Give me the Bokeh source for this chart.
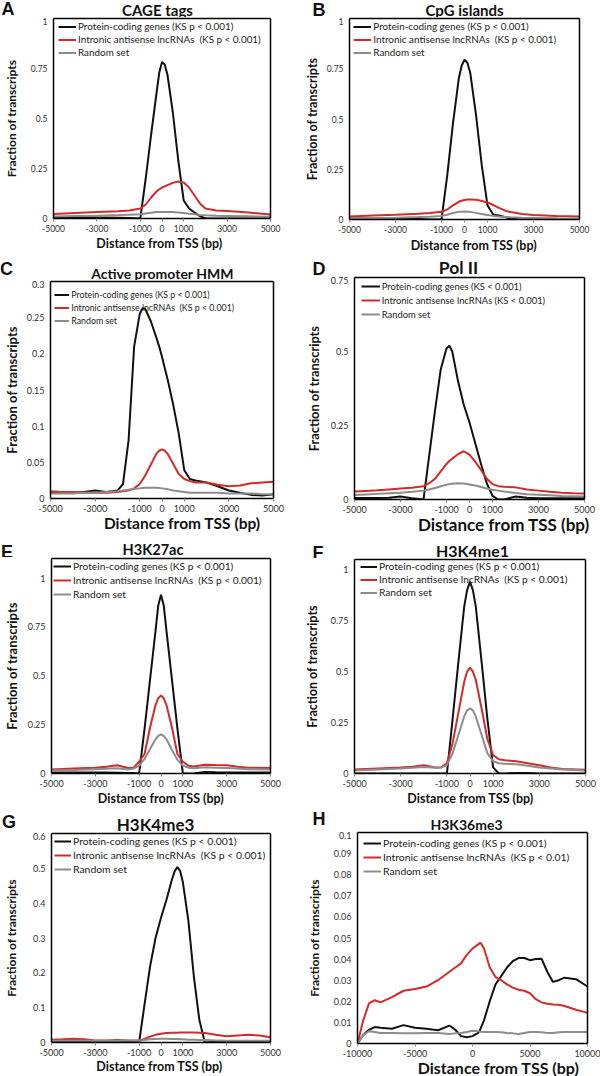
import math
from bokeh.plotting import figure
from bokeh.models import Range1d, FixedTicker, CustomJSTickFormatter, Label, LinearAxis
from bokeh.layouts import column, row
from bokeh.embed import file_html
from bokeh.resources import INLINE

# ---------------- data ----------------
LEG_STD = ["Protein-coding genes (KS p < 0.001)", "Intronic antisense lncRNAs  (KS p < 0.001)", "Random set"]
LEG_D = ["Protein-coding genes (KS < 0.001)", "Intronic antisense lncRNAs (KS < 0.001)", "Random set"]
LEG_H = ["Protein-coding genes (KS p < 0.001)", "Intronic antisense lncRNAs  (KS p < 0.01)", "Random set"]

XTICKS_5K = [-5000, -3000, -1000, 0, 1000, 3000, 5000]
XTICKS_10K = [-10000, -5000, 0, 5000, 10000]

# Panel A: CAGE tags
a_x = [-5000, -4000, -3000, -2000, -1500, -1000, -750, -500, -250, -125, 0, 125, 250, 500, 750, 1000, 1250, 1500, 1750, 2000, 2500, 3000, 4000, 5000]
a_coding = [0.006, 0.006, 0.005, 0.004, 0.003, 0.0, 0.2, 0.42, 0.63, 0.73, 0.782, 0.77, 0.72, 0.53, 0.29, 0.09, 0.05, 0.03, 0.012, 0.0, 0.0, 0.0, 0.0, 0.0]
a_lnc = [0.022, 0.027, 0.032, 0.036, 0.04, 0.05, 0.07, 0.105, 0.135, 0.146, 0.155, 0.161, 0.167, 0.178, 0.185, 0.18, 0.155, 0.115, 0.075, 0.05, 0.04, 0.037, 0.03, 0.02]
a_rand = [0.01, 0.012, 0.014, 0.017, 0.019, 0.021, 0.025, 0.029, 0.032, 0.0325, 0.033, 0.033, 0.033, 0.032, 0.03, 0.027, 0.024, 0.021, 0.018, 0.016, 0.014, 0.013, 0.011, 0.009]

# Panel B: CpG islands
b_x = [-5000, -4000, -3000, -2000, -1500, -1000, -750, -500, -250, -125, 0, 125, 250, 500, 750, 1000, 1250, 1500, 1750, 2000, 2500, 3000, 4000, 5000]
b_coding = [0.005, 0.005, 0.004, 0.003, 0.0, 0.0, 0.22, 0.48, 0.7, 0.765, 0.795, 0.78, 0.73, 0.52, 0.27, 0.07, 0.025, 0.02, 0.012, 0.005, 0.0, 0.0, 0.0, 0.0]
b_lnc = [0.015, 0.02, 0.024, 0.029, 0.032, 0.038, 0.05, 0.07, 0.088, 0.093, 0.097, 0.099, 0.1, 0.098, 0.092, 0.085, 0.072, 0.058, 0.045, 0.037, 0.027, 0.022, 0.017, 0.015]
b_rand = [0.005, 0.007, 0.009, 0.012, 0.014, 0.017, 0.024, 0.032, 0.038, 0.039, 0.04, 0.039, 0.038, 0.033, 0.027, 0.022, 0.018, 0.015, 0.013, 0.011, 0.009, 0.008, 0.006, 0.005]

# Panel C: Active promoter HMM
c_x = [-5000, -4500, -4000, -3500, -3000, -2500, -2000, -1750, -1500, -1250, -1000, -875, -750, -500, -250, -125, 0, 125, 250, 500, 750, 1000, 1250, 1500, 2000, 2500, 3000, 3500, 4000, 4500, 5000]
c_coding = [0.009, 0.008, 0.008, 0.009, 0.011, 0.009, 0.011, 0.02, 0.08, 0.21, 0.255, 0.263, 0.262, 0.245, 0.222, 0.21, 0.196, 0.18, 0.165, 0.13, 0.09, 0.039, 0.027, 0.025, 0.022, 0.017, 0.011, 0.008, 0.005, 0.004, 0.006]
c_lnc = [0.01, 0.009, 0.009, 0.008, 0.008, 0.008, 0.009, 0.01, 0.011, 0.014, 0.02, 0.026, 0.032, 0.047, 0.062, 0.066, 0.068, 0.066, 0.062, 0.048, 0.034, 0.027, 0.024, 0.022, 0.022, 0.019, 0.017, 0.018, 0.021, 0.022, 0.023]
c_rand = [0.007, 0.007, 0.007, 0.008, 0.008, 0.009, 0.01, 0.011, 0.012, 0.013, 0.014, 0.0145, 0.015, 0.015, 0.015, 0.0145, 0.014, 0.0135, 0.013, 0.011, 0.01, 0.009, 0.008, 0.008, 0.008, 0.008, 0.007, 0.007, 0.007, 0.006, 0.006]

# Panel D: Pol II
d_x = [-5000, -4500, -4000, -3500, -3000, -2500, -2000, -1750, -1500, -1250, -1000, -875, -750, -500, -250, 0, 250, 500, 750, 1000, 1250, 1500, 2000, 2500, 3000, 3500, 4000, 4500, 5000]
d_coding = [0.005, 0.005, 0.005, 0.006, 0.01, 0.004, 0.0, 0.15, 0.3, 0.44, 0.51, 0.52, 0.5, 0.4, 0.32, 0.26, 0.19, 0.12, 0.055, 0.012, 0.0, 0.0, 0.01, 0.006, 0.004, 0.004, 0.004, 0.004, 0.004]
d_lnc = [0.027, 0.029, 0.031, 0.034, 0.037, 0.04, 0.045, 0.055, 0.07, 0.095, 0.12, 0.13, 0.138, 0.153, 0.163, 0.152, 0.128, 0.1, 0.07, 0.052, 0.045, 0.043, 0.041, 0.034, 0.03, 0.026, 0.023, 0.021, 0.02]
d_rand = [0.015, 0.017, 0.019, 0.021, 0.023, 0.026, 0.03, 0.034, 0.039, 0.045, 0.05, 0.052, 0.053, 0.055, 0.054, 0.051, 0.047, 0.042, 0.037, 0.033, 0.03, 0.027, 0.022, 0.018, 0.016, 0.014, 0.012, 0.011, 0.01]

# Panel E: H3K27ac
e_x = [-5000, -4000, -3000, -2500, -2000, -1500, -1250, -1000, -750, -500, -250, -125, 0, 125, 250, 500, 750, 1000, 1250, 1500, 2000, 2500, 3000, 3500, 4000, 5000]
e_coding = [0.005, 0.005, 0.005, 0.005, 0.004, 0.003, 0.002, 0.0, 0.23, 0.48, 0.73, 0.86, 0.915, 0.86, 0.73, 0.48, 0.23, 0.0, 0.0, 0.0, 0.008, 0.006, 0.005, 0.005, 0.005, 0.005]
e_lnc = [0.02, 0.025, 0.03, 0.035, 0.042, 0.028, 0.03, 0.06, 0.1, 0.235, 0.35, 0.385, 0.4, 0.385, 0.35, 0.235, 0.1, 0.06, 0.04, 0.036, 0.045, 0.043, 0.042, 0.035, 0.03, 0.028]
e_rand = [0.015, 0.018, 0.022, 0.024, 0.027, 0.02, 0.025, 0.04, 0.075, 0.125, 0.175, 0.193, 0.2, 0.193, 0.175, 0.12, 0.07, 0.04, 0.03, 0.027, 0.032, 0.03, 0.028, 0.025, 0.022, 0.02]

# Panel F: H3K4me1
f_x = [-5000, -4000, -3000, -2500, -2000, -1500, -1250, -1000, -750, -500, -250, -125, 0, 125, 250, 500, 750, 1000, 1250, 1500, 2000, 2500, 3000, 3500, 4000, 5000]
f_coding = [0.0, 0.0, 0.0, 0.0, 0.0, 0.0, 0.0, 0.0, 0.27, 0.55, 0.82, 0.9, 0.94, 0.9, 0.82, 0.55, 0.27, 0.03, 0.0, 0.0, 0.003, 0.002, 0.0, 0.0, 0.0, 0.0]
f_lnc = [0.02, 0.025, 0.03, 0.033, 0.04, 0.03, 0.03, 0.05, 0.15, 0.3, 0.45, 0.5, 0.52, 0.5, 0.46, 0.32, 0.17, 0.09, 0.07, 0.065, 0.06, 0.05, 0.04, 0.03, 0.022, 0.018]
f_rand = [0.015, 0.02, 0.025, 0.028, 0.032, 0.028, 0.03, 0.04, 0.1, 0.19, 0.28, 0.31, 0.32, 0.31, 0.28, 0.19, 0.1, 0.06, 0.05, 0.048, 0.045, 0.038, 0.03, 0.025, 0.02, 0.015]

# Panel G: H3K4me3
g_x = [-5000, -4500, -4000, -3500, -3000, -2500, -2000, -1500, -1000, -750, -500, -250, 0, 250, 500, 625, 750, 875, 1000, 1250, 1500, 1750, 2000, 2500, 3000, 3500, 4000, 4500, 5000]
g_coding = [0.003, 0.003, 0.003, 0.003, 0.003, 0.003, 0.003, 0.002, 0.0, 0.11, 0.218, 0.3, 0.358, 0.41, 0.468, 0.492, 0.504, 0.492, 0.46, 0.35, 0.19, 0.065, 0.0, 0.002, 0.002, 0.002, 0.002, 0.002, 0.002]
g_lnc = [0.008, 0.009, 0.011, 0.009, 0.006, 0.006, 0.007, 0.006, 0.005, 0.01, 0.017, 0.022, 0.025, 0.027, 0.028, 0.028, 0.028, 0.0285, 0.029, 0.029, 0.029, 0.028, 0.027, 0.022, 0.018, 0.02, 0.022, 0.02, 0.015]
g_rand = [0.005, 0.005, 0.005, 0.005, 0.005, 0.005, 0.005, 0.006, 0.006, 0.007, 0.009, 0.01, 0.011, 0.011, 0.01, 0.01, 0.01, 0.0095, 0.009, 0.008, 0.008, 0.007, 0.007, 0.006, 0.005, 0.005, 0.005, 0.005, 0.005]

# Panel H: H3K36me3
h_x = [-10000, -9500, -9000, -8500, -8000, -7000, -6000, -5000, -4000, -3000, -2000, -1500, -1000, -500, 0, 500, 700, 1000, 1500, 2000, 2500, 3000, 3500, 4000, 4500, 5000, 5500, 6000, 6500, 7000, 7500, 8000, 9000, 10000]
h_coding = [0.0, 0.004, 0.0065, 0.0078, 0.0075, 0.007, 0.0087, 0.0075, 0.007, 0.0063, 0.0085, 0.0065, 0.0035, 0.003, 0.0035, 0.005, 0.007, 0.011, 0.02, 0.028, 0.032, 0.036, 0.039, 0.0405, 0.0405, 0.0395, 0.04, 0.0402, 0.034, 0.0292, 0.03, 0.0312, 0.0305, 0.027]
h_lnc = [0.0, 0.011, 0.019, 0.0205, 0.0195, 0.022, 0.025, 0.0258, 0.027, 0.03, 0.034, 0.036, 0.038, 0.042, 0.045, 0.047, 0.0478, 0.045, 0.036, 0.0315, 0.03, 0.028, 0.0265, 0.0255, 0.025, 0.0238, 0.021, 0.0195, 0.0188, 0.0185, 0.0184, 0.0178, 0.016, 0.0145]
h_rand = [0.0, 0.004, 0.0058, 0.0055, 0.005, 0.005, 0.0048, 0.0048, 0.005, 0.005, 0.0045, 0.0048, 0.005, 0.0055, 0.006, 0.0058, 0.0056, 0.0055, 0.0055, 0.0055, 0.0053, 0.005, 0.0048, 0.0045, 0.005, 0.0055, 0.0055, 0.0053, 0.005, 0.005, 0.0053, 0.0055, 0.0055, 0.0055]

# ---------------- styling / layout ----------------
FONT = "Lato"
BLACK = "#111111"
RED = "#d42a2a"
GRAY = "#8c8c8c"
TEXT = "#222222"

# geometry in page pixels (frame = left, right, top, bottom; texts = centre x, baseline y)
PANELS = [
    dict(letter="A", title="CAGE tags", x=a_x, ys=(a_coding, a_lnc, a_rand), leg=LEG_STD,
         xr=(-5000, 5000), yr=(0, 1), xt=XTICKS_5K, yt=[0, 0.25, 0.5, 0.75, 1],
         row=0, col=0, frame=(47, 270, 18, 218), title_at=(157, 13.3), letter_at=(7.5, 13.3),
         xlab_at=(159, 246.7), ylab_cx=6.7, title_fs=15, ylab_fs=12, xlab_fs=12.5, tick_fs=8.5,
         leg_fs=9.9, leg_pitch=13, leg_first=7, leg_x=5, leg_gw=18),
    dict(letter="B", title="CpG islands", x=b_x, ys=(b_coding, b_lnc, b_rand), leg=LEG_STD,
         xr=(-5000, 5000), yr=(0, 1), xt=XTICKS_5K, yt=[0, 0.25, 0.5, 0.75, 1],
         row=0, col=1, frame=(349, 579, 18, 219), title_at=(464, 14), letter_at=(318.5, 15),
         xlab_at=(473.3, 248.3), ylab_cx=315, title_fs=15, ylab_fs=12.5, xlab_fs=12.5, tick_fs=8.5,
         leg_fs=9.9, leg_pitch=13, leg_first=7, leg_x=4.3, leg_gw=18),
    dict(letter="C", title="Active promoter HMM", x=c_x, ys=(c_coding, c_lnc, c_rand), leg=LEG_STD,
         xr=(-5000, 5000), yr=(0, 0.3), xt=XTICKS_5K, yt=[0, 0.05, 0.1, 0.15, 0.2, 0.25, 0.3],
         row=1, col=0, frame=(44, 273, 281, 498), title_at=(162, 277.3), letter_at=(6, 273.3),
         xlab_at=(181.7, 521), ylab_cx=6.7, title_fs=14, ylab_fs=13, xlab_fs=15.5, tick_fs=9,
         leg_fs=8.8, leg_pitch=13, leg_first=12, leg_x=4.3, leg_gw=15),
    dict(letter="D", title="Pol II", x=d_x, ys=(d_coding, d_lnc, d_rand), leg=LEG_D,
         xr=(-5000, 5000), yr=(0, 0.75), xt=XTICKS_5K, yt=[0, 0.25, 0.5, 0.75],
         row=1, col=1, frame=(354, 584, 277, 499), title_at=(458, 273.3), letter_at=(318.5, 273.3),
         xlab_at=(503.3, 526), ylab_cx=316, title_fs=17.5, ylab_fs=12.8, xlab_fs=17, tick_fs=9,
         leg_fs=9.4, leg_pitch=14, leg_first=8, leg_x=6.7, leg_gw=19),
    dict(letter="E", title="H3K27ac", x=e_x, ys=(e_coding, e_lnc, e_rand), leg=LEG_STD,
         xr=(-5000, 5000), yr=(0, 1.1), xt=XTICKS_5K, yt=[0, 0.25, 0.5, 0.75, 1],
         row=2, col=0, frame=(45, 270, 558, 773), title_at=(152.5, 553.3), letter_at=(6.5, 559.3),
         xlab_at=(160.5, 801), ylab_cx=6, title_fs=14.6, ylab_fs=13, xlab_fs=12.5, tick_fs=9,
         leg_fs=10.2, leg_pitch=14, leg_first=7, leg_x=2, leg_gw=18),
    dict(letter="F", title="H3K4me1", x=f_x, ys=(f_coding, f_lnc, f_rand), leg=LEG_STD,
         xr=(-5000, 5000), yr=(0, 1.05), xt=XTICKS_5K, yt=[0, 0.25, 0.5, 0.75, 1],
         row=2, col=1, frame=(354, 585, 559, 773), title_at=(472, 556.7), letter_at=(317.5, 558.3),
         xlab_at=(470, 801), ylab_cx=315, title_fs=16, ylab_fs=12.5, xlab_fs=12.5, tick_fs=9,
         leg_fs=10.2, leg_pitch=13, leg_first=6, leg_x=6, leg_gw=17),
    dict(letter="G", title="H3K4me3", x=g_x, ys=(g_coding, g_lnc, g_rand), leg=LEG_STD,
         xr=(-5000, 5000), yr=(0, 0.6), xt=XTICKS_5K, yt=[0, 0.1, 0.2, 0.3, 0.4, 0.5, 0.6],
         row=3, col=0, frame=(45, 270, 833, 1042), title_at=(155, 832), letter_at=(8.5, 826.7),
         xlab_at=(159, 1069), ylab_cx=6, title_fs=17, ylab_fs=12, xlab_fs=12.5, tick_fs=9,
         leg_fs=10.4, leg_pitch=14, leg_first=7, leg_x=3, leg_gw=17),
    dict(letter="H", title="H3K36me3", x=h_x, ys=(h_coding, h_lnc, h_rand), leg=LEG_H,
         xr=(-10000, 10000), yr=(0, 0.1), xt=XTICKS_10K,
         yt=[0, 0.01, 0.02, 0.03, 0.04, 0.05, 0.06, 0.07, 0.08, 0.09, 0.1],
         row=3, col=1, frame=(357, 587, 832, 1043), title_at=(466, 831.7), letter_at=(318.5, 823.3),
         xlab_at=(498, 1070), ylab_cx=316.7, title_fs=14, ylab_fs=12, xlab_fs=16, tick_fs=9,
         leg_fs=10.4, leg_pitch=14, leg_first=10, leg_x=6, leg_gw=18),
]

ROW_TOPS = [0, 255, 535, 808, 1076]
COL_LEFT = [0, 300]
COL_W = 300
AXIS_B = 17          # room for x tick labels below each frame
LETTER_FS = 18
BASELINE_FIX = 0.28  # Bokeh draws "alphabetic" text a little low; lift it by this many ems
FMT = "var v = parseFloat(tick.toFixed(6)); return (v < 0 ? '-' : '') + String(Math.abs(v));"


def label_w(t, fs):
    # rough Lato width of a tick label
    return sum(0.26 if ch == "." else 0.58 for ch in str(t)) * fs


def tick_text(v):
    return ("%.6f" % v).rstrip("0").rstrip(".")


def text_box(width, height, items):
    """A frame-only figure that carries free texts (letters, titles, x labels)."""
    p = figure(width=width, height=height, output_backend="svg", toolbar_location=None,
               x_range=Range1d(0, width), y_range=Range1d(0, height),
               x_axis_location=None, y_axis_location=None, frame_align=False,
               min_border_left=0, min_border_right=0, min_border_top=0, min_border_bottom=0)
    p.title.visible = False
    p.outline_line_color = None
    p.xgrid.visible = False
    p.ygrid.visible = False
    p.background_fill_color = "white"
    p.border_fill_color = "white"
    for (txt, x, y, fs, font) in items:
        p.add_layout(Label(x=x, y=y + BASELINE_FIX * fs, x_units="screen", y_units="screen", text=txt,
                           text_font=font, text_font_style="bold", text_font_size=f"{fs}px",
                           text_align="center", text_baseline="alphabetic", text_color="#111111"))
    return p


def border_axis():
    return LinearAxis(ticker=FixedTicker(ticks=[], minor_ticks=[]),
                      major_tick_out=0, major_tick_in=0, major_label_standoff=0,
                      axis_line_color="black", axis_line_width=1.5,
                      major_label_text_alpha=0, minor_tick_line_color=None,
                      major_tick_line_color=None)


def make_panel(c):
    x0 = COL_LEFT[c["col"]]
    row_top = ROW_TOPS[c["row"]]
    row_bot = ROW_TOPS[c["row"] + 1]
    fl, fr, top, bot = c["frame"]
    L = fl - x0
    R = COL_W - (fr - x0)
    fh = bot - top
    head_h = top - 1 - row_top
    main_h = 1 + fh + AXIS_B
    foot_h = row_bot - (bot + AXIS_B)

    # ---- main plot ----
    p = figure(width=COL_W, height=main_h, output_backend="svg", toolbar_location=None,
               x_range=Range1d(*c["xr"]), y_range=Range1d(*c["yr"]), frame_align=False,
               min_border_left=L, min_border_right=R, min_border_top=1, min_border_bottom=AXIS_B)
    p.title.visible = False
    p.background_fill_color = "white"
    p.border_fill_color = "white"
    p.outline_line_color = None
    p.xgrid.visible = False
    p.ygrid.visible = False

    for ax, ticks in ((p.xaxis[0], c["xt"]), (p.yaxis[0], c["yt"])):
        ax.ticker = FixedTicker(ticks=ticks, minor_ticks=[])
        ax.formatter = CustomJSTickFormatter(code=FMT)
        ax.axis_line_color = "black"
        ax.axis_line_width = 1.5
        ax.minor_tick_line_color = None
        ax.major_label_text_font = FONT
        ax.major_label_text_font_size = f"{c['tick_fs']}px"
        ax.major_label_text_color = "#333333"
    p.xaxis.major_tick_out = 3
    p.xaxis.major_tick_in = 0
    p.xaxis.major_tick_line_color = "#888888"
    p.xaxis.major_label_standoff = 3
    p.yaxis.major_tick_out = 0
    p.yaxis.major_tick_in = 0
    p.yaxis.major_tick_line_color = None
    p.yaxis.major_label_standoff = 6

    # y axis title as a real axis label, placed where the reference has it
    tw = max(label_w(tick_text(v), c["tick_fs"]) for v in c["yt"])
    dist = fl - c["ylab_cx"]
    lab_h = 1.2 * c["ylab_fs"]
    stand = int(max(0, round(dist - 6 - tw - lab_h / 2)))
    stand = min(stand, max(0, int(L - 6 - tw - lab_h)))
    p.yaxis.axis_label = "Fraction of transcripts"
    p.yaxis.axis_label_standoff = stand
    p.yaxis.axis_label_text_font = FONT
    p.yaxis.axis_label_text_font_style = "bold"
    p.yaxis.axis_label_text_font_size = f"{c['ylab_fs']}px"
    p.yaxis.axis_label_text_color = "#111111"

    colors = (BLACK, RED, GRAY)
    for ys, col, lab in zip(c["ys"], colors, c["leg"]):
        p.line(c["x"], ys, line_color=col, line_width=2, legend_label=lab)

    leg = p.legend[0]
    pitch = int(c["leg_pitch"])
    leg.padding = 0
    leg.spacing = 0
    leg.margin = 0
    leg.glyph_width = int(c["leg_gw"])
    leg.glyph_height = pitch
    leg.label_height = pitch
    leg.label_standoff = 2
    leg.label_text_font = FONT
    leg.label_text_font_size = f"{c['leg_fs']}px"
    leg.label_text_color = TEXT
    leg.border_line_alpha = 0
    leg.background_fill_alpha = 0
    top_off = c["leg_first"] - pitch / 2
    leg.location = (c["leg_x"], fh - top_off - 3 * pitch - 1)

    p.add_layout(border_axis(), "above")
    p.add_layout(border_axis(), "right")

    # ---- header: panel letter + title ----
    head_bottom = top - 1
    items = []
    lx, ly = c["letter_at"]
    base = max(ly, row_top + 0.74 * LETTER_FS)
    base = min(base, head_bottom - 0.5)
    items.append((c["letter"], lx - x0, head_bottom - base, LETTER_FS, "Liberation Sans"))
    tx, ty = c["title_at"]
    fs = c["title_fs"]
    base = max(ty, row_top + 0.74 * fs)
    base = min(base, head_bottom - 0.22 * fs)
    items.append((c["title"], tx - x0, head_bottom - base, fs, FONT))
    header = text_box(COL_W, head_h, items)

    # ---- footer: x axis title ----
    foot_top = bot + AXIS_B
    xx, xy = c["xlab_at"]
    fs = c["xlab_fs"]
    base = max(xy, foot_top + 0.74 * fs)
    base = min(base, row_bot - 0.24 * fs)
    footer = text_box(COL_W, foot_h, [("Distance from TSS (bp)", xx - x0, row_bot - base, fs, FONT)])

    return column(header, p, footer, spacing=0)


cells = [make_panel(c) for c in PANELS]
layout = column(row(cells[0], cells[1], spacing=0), row(cells[2], cells[3], spacing=0),
                row(cells[4], cells[5], spacing=0), row(cells[6], cells[7], spacing=0), spacing=0)

open("out.html", "w").write(file_html(layout, INLINE))
